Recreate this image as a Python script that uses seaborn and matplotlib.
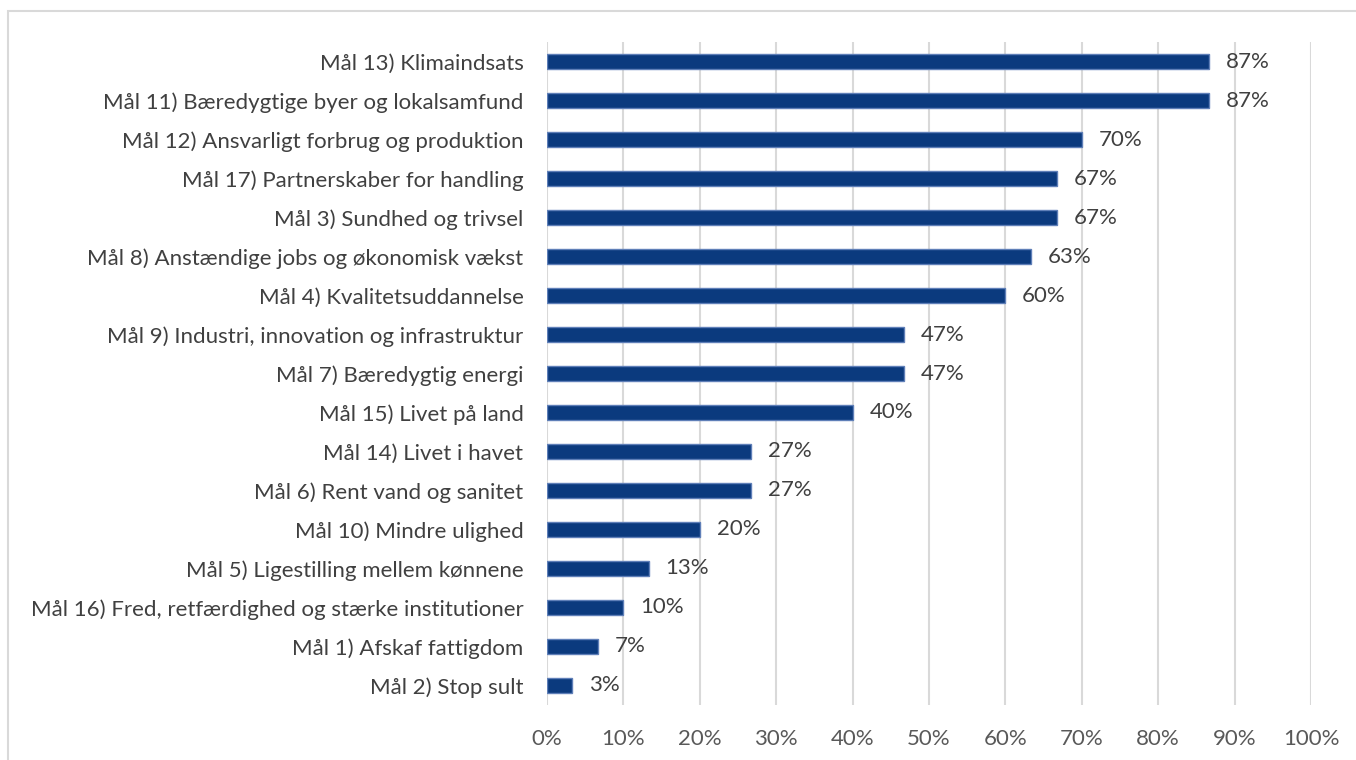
import pandas as pd
import matplotlib.pyplot as plt
import seaborn as sns
from matplotlib.patches import Rectangle
from matplotlib.ticker import PercentFormatter

goals = [
    "Mål 13) Klimaindsats",
    "Mål 11) Bæredygtige byer og lokalsamfund",
    "Mål 12) Ansvarligt forbrug og produktion",
    "Mål 17) Partnerskaber for handling",
    "Mål 3) Sundhed og trivsel",
    "Mål 8) Anstændige jobs og økonomisk vækst",
    "Mål 4) Kvalitetsuddannelse",
    "Mål 9) Industri, innovation og infrastruktur",
    "Mål 7) Bæredygtig energi",
    "Mål 15) Livet på land",
    "Mål 14) Livet i havet",
    "Mål 6) Rent vand og sanitet",
    "Mål 10) Mindre ulighed",
    "Mål 5) Ligestilling mellem kønnene",
    "Mål 16) Fred, retfærdighed og stærke institutioner",
    "Mål 1) Afskaf fattigdom",
    "Mål 2) Stop sult",
]
shares = [86.7, 86.7, 70.0, 66.7, 66.7, 63.3, 60.0, 46.7, 46.7, 40.0,
          26.7, 26.7, 20.0, 13.3, 10.0, 6.7, 3.3]

df = pd.DataFrame({"goal": goals, "share": shares})

sns.set_theme(style="white")
plt.rcParams['font.family'] = ['Lato', 'DejaVu Sans']

fig = plt.figure(figsize=(13.56, 7.6), dpi=100)
ax = fig.add_axes([0.4034, 0.0724, 0.5634, 0.8723])

sns.barplot(data=df, x="share", y="goal", orient="h", color="#0B3A7E",
            width=0.38, edgecolor="#5F7FB8", linewidth=1.0, saturation=1, ax=ax)

for i, v in enumerate(shares):
    ax.text(v + 2.2, i, f"{v:.0f}%", va="center", ha="left",
            fontsize=16, color="#404040")

ax.set_xlim(0, 100)
ax.set_xticks(range(0, 101, 10))
ax.xaxis.set_major_formatter(PercentFormatter(decimals=0))
ax.grid(axis="x", color="#D9D9D9", linewidth=1.5)
ax.set_axisbelow(True)
ax.set_xlabel("")
ax.set_ylabel("")
for s in ax.spines.values():
    s.set_visible(False)
ax.tick_params(axis="x", labelsize=16, labelcolor="#595959", length=0, pad=17)
ax.tick_params(axis="y", labelsize=16, labelcolor="#404040", length=0, pad=17)

# outer chart border
fig.patches.append(Rectangle((8 / 1356, -0.05), 1.1, 1 - 11 / 760 + 0.05,
                             transform=fig.transFigure, fill=False,
                             edgecolor="#D9D9D9", linewidth=1.5))

fig.savefig("out.png", dpi=100)
